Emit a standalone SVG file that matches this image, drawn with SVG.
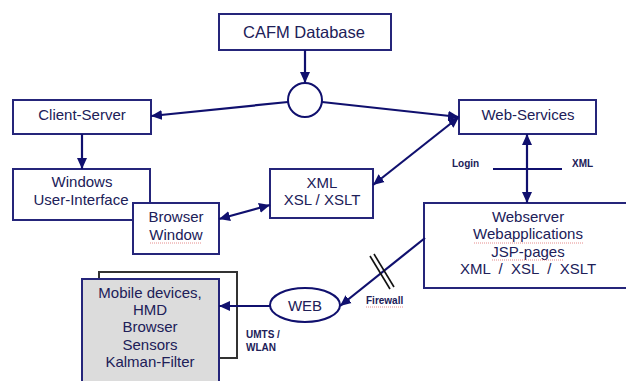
<svg xmlns="http://www.w3.org/2000/svg" width="626" height="381" viewBox="0 0 626 381">
  <style>
    .box { fill: #ffffff; stroke: #25257a; stroke-width: 2; }
    .shade { fill: #dcdcdc; stroke: #25257a; stroke-width: 2; }
    .back { fill: none; stroke: #333333; stroke-width: 2; }
    .lbl { font-family: "Liberation Sans", Arial, sans-serif; font-size: 15px; fill: #202058; text-anchor: middle; }
    .big { font-size: 16.5px; }
    .small { font-family: "Liberation Sans", Arial, sans-serif; font-size: 10px; font-weight: bold; fill: #202058; }
    .conn { fill: none; stroke: #10106e; stroke-width: 2.2; }
    .squiggle { fill: none; stroke: #e07070; stroke-width: 0.8; stroke-dasharray: 1 1; }
  </style>
  <defs>
    <marker id="arrow" markerUnits="userSpaceOnUse" markerWidth="12" markerHeight="12" viewBox="0 0 12 12" refX="11" refY="6" orient="auto-start-reverse">
      <path d="M0,1 L11,6 L0,11 Z" fill="#10106e"/>
    </marker>
  </defs>

  <rect width="626" height="381" fill="#ffffff"/>

  <g id="cafm-database">
    <rect class="box" x="219" y="14" width="172" height="36"/>
    <text class="lbl big" x="304" y="38">CAFM Database</text>
  </g>

  <g id="junction">
    <circle cx="305" cy="100" r="17" fill="#ffffff" stroke="#10106e" stroke-width="2"/>
  </g>

  <g id="client-server">
    <rect class="box" x="13" y="100" width="138" height="34"/>
    <text class="lbl" x="82" y="120">Client-Server</text>
  </g>

  <g id="web-services">
    <rect class="box" x="459" y="100" width="137" height="34"/>
    <text class="lbl" x="528" y="120">Web-Services</text>
  </g>

  <g id="windows-ui">
    <rect class="box" x="13" y="169" width="137" height="51"/>
    <text class="lbl" x="82" y="187">Windows</text>
    <text class="lbl" x="81" y="205">User-Interface</text>
  </g>

  <g id="browser-window">
    <rect class="box" x="133" y="203" width="86" height="51"/>
    <text class="lbl" x="176" y="222">Browser</text>
    <text class="lbl" x="176" y="240">Window</text>
    <path class="squiggle" d="M150,243 H202"/>
  </g>

  <g id="xml-xsl">
    <rect class="box" x="270" y="169" width="103" height="49"/>
    <text class="lbl" x="322" y="188">XML</text>
    <text class="lbl" x="322" y="205">XSL / XSLT</text>
  </g>

  <g id="webserver">
    <rect class="box" x="424" y="203" width="220" height="85"/>
    <text class="lbl" x="528" y="222">Webserver</text>
    <text class="lbl" x="528" y="239">Webapplications</text>
    <text class="lbl" x="528" y="257">JSP-pages</text>
    <text class="lbl" x="528" y="274" xml:space="preserve">XML  /  XSL  /  XSLT</text>
    <path class="squiggle" d="M474,243 H583"/>
    <path class="squiggle" d="M492,260 H564"/>
  </g>

  <g id="web">
    <ellipse cx="305" cy="305" rx="35" ry="17" fill="#ffffff" stroke="#10106e" stroke-width="2"/>
    <text class="lbl" x="305" y="311">WEB</text>
  </g>

  <g id="mobile-devices">
    <path class="back" d="M99,279 V272 H237 V358 H219"/>
    <rect class="shade" x="82" y="279" width="137" height="110"/>
    <text class="lbl" x="150" y="298">Mobile devices,</text>
    <text class="lbl" x="150" y="315">HMD</text>
    <text class="lbl" x="150" y="332">Browser</text>
    <text class="lbl" x="150" y="350">Sensors</text>
    <text class="lbl" x="150" y="367">Kalman-Filter</text>
  </g>

  <g id="connectors">
    <line class="conn" x1="305" y1="50" x2="305" y2="83" marker-end="url(#arrow)"/>
    <line class="conn" x1="288" y1="102" x2="151" y2="116" marker-end="url(#arrow)"/>
    <line class="conn" x1="322" y1="102" x2="459" y2="117" marker-end="url(#arrow)"/>
    <line class="conn" x1="82" y1="134" x2="82" y2="169" marker-end="url(#arrow)"/>
    <line class="conn" x1="219" y1="219" x2="270" y2="205" marker-start="url(#arrow)" marker-end="url(#arrow)"/>
    <line class="conn" x1="373" y1="185" x2="459" y2="117" marker-start="url(#arrow)" marker-end="url(#arrow)"/>
    <line class="conn" x1="527" y1="134" x2="527" y2="203" marker-start="url(#arrow)" marker-end="url(#arrow)"/>
    <line class="conn" x1="493" y1="169" x2="562" y2="169"/>
    <line class="conn" x1="425" y1="238" x2="340" y2="306" marker-end="url(#arrow)"/>
    <line class="conn" x1="270" y1="306" x2="219" y2="306" marker-end="url(#arrow)"/>
    <!-- firewall hatch across the webserver link -->
    <line x1="370" y1="256" x2="390" y2="289" stroke="#111111" stroke-width="1.6"/>
    <line x1="374" y1="254" x2="394" y2="287" stroke="#111111" stroke-width="1.6"/>
  </g>

  <g id="labels">
    <text class="small" x="452" y="167">Login</text>
    <text class="small" x="572" y="167">XML</text>
    <text class="small" x="366" y="304">Firewall</text>
    <path class="squiggle" d="M366,307 H403"/>
    <text class="small" x="246" y="338">UMTS /</text>
    <text class="small" x="246" y="351">WLAN</text>
  </g>
</svg>
